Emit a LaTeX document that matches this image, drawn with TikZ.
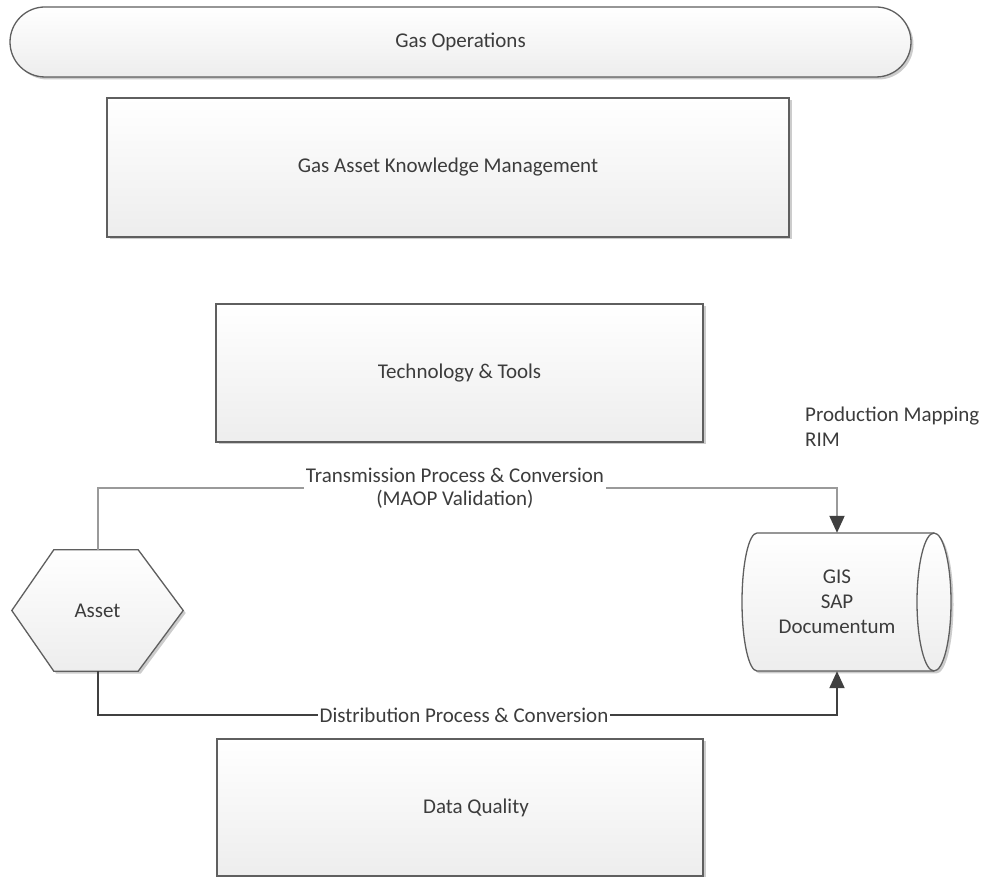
\documentclass[tikz,border=0pt]{standalone}
\usepackage{fontspec}
\setmainfont{Carlito}
\usetikzlibrary{arrows.meta,shadows}
\pgfdeclarelayer{bg}
\pgfsetlayers{bg,main}
\definecolor{edge}{HTML}{5F5F5F}
\definecolor{txt}{HTML}{3C3C3C}
\definecolor{lnlight}{HTML}{9A9A9A}
\definecolor{lndark}{HTML}{404040}
\begin{document}
\begin{tikzpicture}[x=1pt,y=1pt,
  font=\fontsize{21}{23}\selectfont, text=txt,
  figstyle/.style={draw=edge, line width=1.3pt, top color=white, bottom color=black!7,
    drop shadow={shadow xshift=2.5pt, shadow yshift=-2.5pt, fill=black, opacity=0.2}},
  box/.style={figstyle, rectangle, inner sep=0pt},
  lbl/.style={fill=white, inner xsep=1.5pt, inner ysep=1pt, align=center},
  conntop/.style={draw=lnlight, line width=2pt, -{Triangle[length=17pt,width=15pt,color=lndark]}},
  connbot/.style={draw=lndark, line width=2pt, -{Triangle[length=17pt,width=15pt,color=lndark]}}]
\useasboundingbox (0,0) rectangle (986,877);

\node[box, minimum width=901pt, minimum height=70pt, rounded corners=35pt] (ops) at (460.5,835) {Gas Operations};
\node[box, minimum width=682pt, minimum height=139pt] (gakm) at (448,709.5) {Gas Asset Knowledge Management};
\node[box, minimum width=487pt, minimum height=138pt] (tech) at (459.5,504) {Technology \& Tools};
\node[box, minimum width=486pt, minimum height=137pt] (dq) at (460,69.5) {\hspace*{32pt}Data Quality};

\node[inner sep=0pt, minimum width=171pt, minimum height=121pt] (asset) at (97.5,266.5) {Asset};
\node[inner sep=0pt, minimum width=170pt, minimum height=138pt, align=center,
      font=\fontsize{21}{25}\selectfont] (db) at (837,275) {GIS\\SAP\\Documentum};

\begin{pgfonlayer}{bg}
  \path[figstyle] (asset.west) -- ([xshift=42pt]asset.north west) -- ([xshift=-45pt]asset.north east)
     -- (asset.east) -- ([xshift=-45pt]asset.south east) -- ([xshift=42pt]asset.south west) -- cycle;
  \path[figstyle] (757,344) -- (934,344) arc[start angle=90,end angle=-90,x radius=17,y radius=69]
     -- (757,206) arc[start angle=270,end angle=90,x radius=15,y radius=69] -- cycle;
  \draw[draw=edge, line width=1.3pt] (934,344) arc[start angle=90,end angle=270,x radius=17,y radius=69];
\end{pgfonlayer}

\draw[conntop] (asset.north) -- ++(0,62) -| (db.north);
\node[lbl] (tlab) at (455,389) {Transmission Process \& Conversion\\(MAOP Validation)};

\draw[connbot] (asset.south) -- ++(0,-44) -| (db.south);
\node[lbl] (blab) at (464,162) {Distribution Process \& Conversion};

\node[anchor=west, inner sep=0pt, align=left, font=\fontsize{21}{25}\selectfont] (prod) at (805,450.5) {Production Mapping\\RIM};
\end{tikzpicture}
\end{document}
